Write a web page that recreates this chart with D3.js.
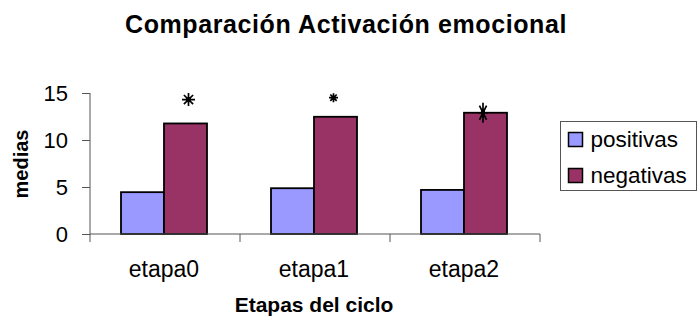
<!DOCTYPE html>
<html>
<head>
<meta charset="utf-8">
<script src="https://cdn.jsdelivr.net/npm/d3@7"></script>
<style>
  body { margin: 0; background: #fff; }
  svg { font-family: Arial, "Liberation Sans", sans-serif; }
</style>
</head>
<body>
<svg id="chart" width="697" height="319"></svg>
<script>
// data
var etapas = ["etapa0", "etapa1", "etapa2"];
var series = ["positivas", "negativas"];
var positivas = [4.45, 4.87, 4.69];
var negativas = [11.76, 12.47, 12.9];
// significance markers (y value of star centre)
var estrellas = [14.3, 14.5, 12.9];
var yTicks = [0, 5, 10, 15];

var colors = { positivas: "#9999FF", negativas: "#993366" };

const svg = d3.select('#chart');
var margin = { left: 90, right: 157, top: 93, bottom: 85 };
var width = 697 - margin.left - margin.right;
var height = 319 - margin.top - margin.bottom;

var x = d3.scaleBand().domain(etapas).range([0, width]);
var xInner = d3.scaleBand().domain(series).range([31, x.bandwidth() - 33]);
var y = d3.scaleLinear().domain([0, 15]).range([height, 0]);

var g = svg.append("g")
    .attr("transform", "translate(" + margin.left + "," + margin.top + ")");

// title
svg.append("text")
    .attr("x", 346).attr("y", 33)
    .attr("text-anchor", "middle")
    .style("font-size", "25px").style("font-weight", "bold")
    .style("letter-spacing", "0.6px")
    .text("Comparación Activación emocional");

// bars
var rows = etapas.map(function(e, i) {
    return { etapa: e, values: [
        { key: "positivas", value: positivas[i] },
        { key: "negativas", value: negativas[i] }
    ] };
});

g.selectAll(".grupo")
    .data(rows)
    .enter().append("g")
    .attr("class", "grupo")
    .attr("transform", function(d) { return "translate(" + x(d.etapa) + ",0)"; })
    .selectAll("rect")
    .data(function(d) { return d.values; })
    .enter().append("rect")
    .attr("x", function(d) { return xInner(d.key); })
    .attr("width", xInner.bandwidth())
    .attr("y", function(d) { return y(d.value); })
    .attr("height", function(d) { return height - y(d.value); })
    .attr("fill", function(d) { return colors[d.key]; })
    .attr("stroke", "#000")
    .attr("stroke-width", 1.8);

// y axis
var yAxis = d3.axisLeft(y).tickValues(yTicks).tickSize(8).tickPadding(14);
var ya = g.append("g").call(yAxis);
ya.select(".domain").attr("stroke", "#555").attr("d", "M0," + height + "V0");
ya.selectAll(".tick line").attr("stroke", "#555");
ya.selectAll("text").style("font-size", "22px").attr("fill", "#000").attr("dy", "0.36em");

// x axis
var xa = g.append("g").attr("transform", "translate(0," + height + ")");
xa.append("line").attr("x1", 0).attr("x2", width).attr("stroke", "#555");
xa.selectAll(".xtick")
    .data(d3.range(etapas.length + 1))
    .enter().append("line")
    .attr("x1", function(i) { return i * x.step(); })
    .attr("x2", function(i) { return i * x.step(); })
    .attr("y1", 0).attr("y2", 8)
    .attr("stroke", "#555");
xa.selectAll(".xlabel")
    .data(etapas)
    .enter().append("text")
    .attr("x", function(d) { return x(d) + x.bandwidth() / 2 - 1; })
    .attr("y", 43)
    .attr("text-anchor", "middle")
    .style("font-size", "23px")
    .text(function(d) { return d; });

// stars
function starPath(rx, ry, lines) {
    var p = "";
    for (var k = 0; k < lines; k++) {
        var a = Math.PI * k / lines;
        var dx = Math.cos(a) * rx, dy = Math.sin(a) * ry;
        p += "M" + (-dx) + "," + (-dy) + "L" + dx + "," + dy;
    }
    return p;
}
var starSizes = [[6.5, 6.5], [4.5, 4.5], [5, 10]];
var starShift = [3, -2, -2.5];
function starX(i) {
    return x(etapas[i]) + xInner("negativas") + xInner.bandwidth() / 2 + starShift[i];
}
g.selectAll(".star")
    .data(estrellas)
    .enter().append("path")
    .attr("class", "star")
    .attr("transform", function(d, i) { return "translate(" + starX(i) + "," + y(d) + ")"; })
    .attr("d", function(d, i) { return starPath(starSizes[i][0], starSizes[i][1], 4); })
    .attr("stroke", "#000")
    .attr("stroke-width", 1.7);
g.selectAll(".starcore")
    .data(estrellas)
    .enter().append("ellipse")
    .attr("cx", function(d, i) { return starX(i); })
    .attr("cy", function(d) { return y(d); })
    .attr("rx", function(d, i) { return starSizes[i][0] * 0.4; })
    .attr("ry", function(d, i) { return starSizes[i][1] * 0.4; })
    .attr("fill", "#000");

// axis titles
svg.append("text")
    .attr("transform", "translate(28,164) rotate(-90)")
    .attr("text-anchor", "middle")
    .style("font-size", "20px").style("font-weight", "bold")
    .text("medias");
svg.append("text")
    .attr("x", 314).attr("y", 312)
    .attr("text-anchor", "middle")
    .style("font-size", "21px").style("font-weight", "bold")
    .text("Etapas del ciclo");

// legend
var legend = svg.append("g").attr("transform", "translate(560.5,121.5)");
legend.append("rect")
    .attr("width", 136).attr("height", 69)
    .attr("fill", "#fff").attr("stroke", "#555").attr("stroke-width", 1);
var items = legend.selectAll(".item")
    .data(series)
    .enter().append("g")
    .attr("transform", function(d, i) { return "translate(8," + (11 + i * 36) + ")"; });
items.append("rect")
    .attr("width", 14).attr("height", 14)
    .attr("fill", function(d) { return colors[d]; })
    .attr("stroke", "#000").attr("stroke-width", 1.5);
items.append("text")
    .attr("x", 22).attr("y", 14.5)
    .style("font-size", "22.5px")
    .text(function(d) { return d; });
</script>
</body>
</html>
